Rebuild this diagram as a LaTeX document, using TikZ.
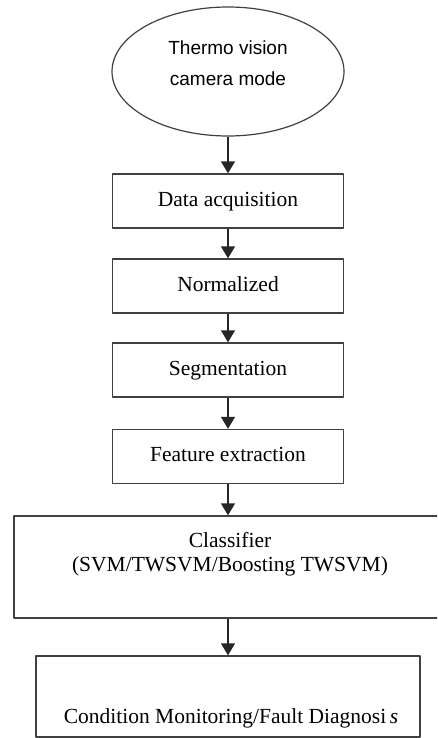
\documentclass[tikz,border=0pt]{standalone}
\usepackage{fontspec}
\setmainfont{Liberation Serif}
\newfontfamily\camfont{Liberation Sans}
\usetikzlibrary{arrows.meta,shapes.geometric}

\begin{document}
\begin{tikzpicture}[x=1pt,y=-1pt,>={Triangle[width=14pt,length=12pt]},line join=round,
  stagebox/.style={draw=black!75,line width=1.3pt,rectangle,inner sep=0pt,
    font=\fontsize{21.5}{25}\selectfont,text height=14.5pt,text depth=4.5pt},
  flow/.style={->,line width=1.4pt,black!85},
  stagetxt/.style={inner sep=0pt,align=center,font=\fontsize{21.5}{24}\selectfont}]
  \useasboundingbox (0,0) rectangle (437,738);
  \clip (0,0) rectangle (437,738);
  % source
  \node[ellipse,draw=black!75,line width=1.2pt,minimum width=232pt,minimum height=129pt,inner sep=0pt] (cam) at (228,71.5) {};
  \node[anchor=north,inner sep=0pt,align=center,font=\camfont\fontsize{19}{31}\selectfont] (camtxt) at (228,41) {Thermo vision\\camera mode};
  % processing chain
  \node[stagebox,minimum width=231pt,minimum height=54pt] (acq) at (228,201) {Data acquisition};
  \node[stagebox,minimum width=231pt,minimum height=54pt] (norm) at (228,286) {Normalized};
  \node[stagebox,minimum width=231pt,minimum height=54pt] (seg) at (228,370) {Segmentation};
  \node[stagebox,minimum width=231pt,minimum height=54pt] (feat) at (228,456.5) {Feature extraction};
  \node[stagebox,minimum width=428pt,minimum height=102pt] (cls) at (228,567) {};
  \node[stagetxt,anchor=north] (clstxt) at (230,532) {Classifier\\(SVM/TWSVM/Boosting TWSVM)};
  \node[stagebox,minimum width=384pt,minimum height=81pt] (diag) at (228,696.5) {};
  \node[stagetxt,anchor=base] (diagtxt) at (231,723) {Condition Monitoring/Fault Diagnosi\,\textit{s}};
  % arrows
  \draw[flow] (cam.south) -- (acq.north);
  \draw[flow] (acq.south) -- (norm.north);
  \draw[flow] (norm.south) -- (seg.north);
  \draw[flow] (seg.south) -- (feat.north);
  \draw[flow] (feat.south) -- (cls.north);
  \draw[flow] (cls.south) -- (diag.north);
\end{tikzpicture}
\end{document}
